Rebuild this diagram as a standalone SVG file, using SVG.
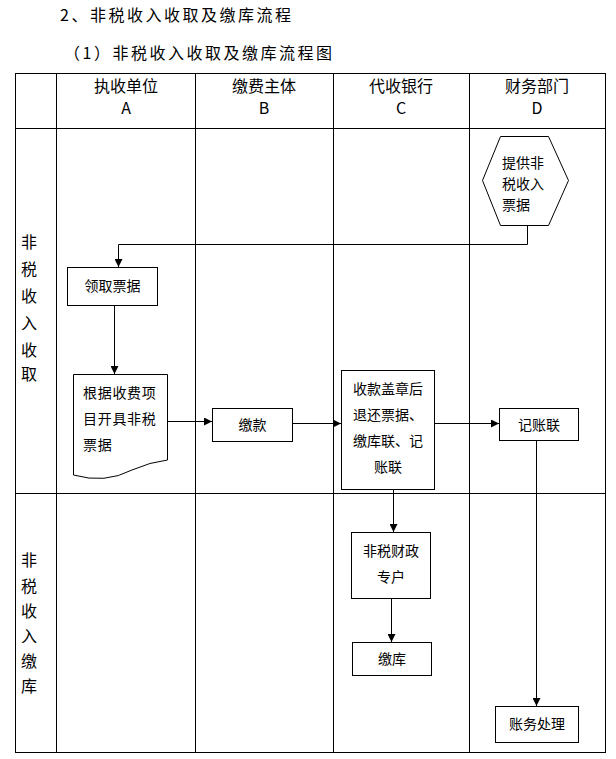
<svg xmlns="http://www.w3.org/2000/svg" width="616" height="759" viewBox="0 0 616 759">
<style>
text{font-family:"Noto Sans CJK SC","Noto Sans",sans-serif;fill:#000}
.t{font-size:16px;letter-spacing:2.5px}
.h{font-size:16px;text-anchor:middle}
.r{font-size:16px;text-anchor:middle}
.n{font-size:14px}
.m{text-anchor:middle}
.grid line{stroke:#000;stroke-width:1}
.box{fill:#fff;stroke:#000;stroke-width:1}
.conn path{fill:none;stroke:#000;stroke-width:1}
</style>
<defs>
<marker id="ar" viewBox="0 0 10 10" refX="10" refY="5" markerWidth="9" markerHeight="8" markerUnits="userSpaceOnUse" orient="auto">
<path d="M0,0 L10,5 L0,10 Z" fill="#000"/>
</marker>
</defs>
<rect width="616" height="759" fill="#fff"/>
<text class="t" x="60" y="21">2、非税收入收取及缴库流程</text>
<text class="t" x="64" y="59">（1）非税收入收取及缴库流程图</text>
<g class="grid">
<rect x="15.5" y="73.5" width="590" height="679" fill="none" stroke="#000"/>
<line x1="56.5" y1="73" x2="56.5" y2="753"/>
<line x1="195.5" y1="73" x2="195.5" y2="753"/>
<line x1="333.5" y1="73" x2="333.5" y2="753"/>
<line x1="469.5" y1="73" x2="469.5" y2="753"/>
<line x1="15" y1="128.5" x2="606" y2="128.5"/>
<line x1="15" y1="493.5" x2="606" y2="493.5"/>
</g>
<g id="headers">
<text class="h" x="126" y="92">执收单位</text><text class="h" x="126" y="114">A</text>
<text class="h" x="264" y="92">缴费主体</text><text class="h" x="264" y="114">B</text>
<text class="h" x="401" y="92">代收银行</text><text class="h" x="401" y="114">C</text>
<text class="h" x="537" y="92">财务部门</text><text class="h" x="537" y="114">D</text>
</g>
<g id="lane1">
<text class="r" x="29" y="248">非</text><text class="r" x="29" y="275">税</text><text class="r" x="29" y="302">收</text><text class="r" x="29" y="329">入</text><text class="r" x="29" y="356">收</text><text class="r" x="29" y="380">取</text>
</g>
<g id="lane2">
<text class="r" x="29" y="566">非</text><text class="r" x="29" y="592">税</text><text class="r" x="29" y="617">收</text><text class="r" x="29" y="642">入</text><text class="r" x="29" y="667">缴</text><text class="r" x="29" y="692">库</text>
</g>
<g class="conn" id="connectors">
<path d="M527.5,225 V244.5 H118.5 V267" marker-end="url(#ar)"/>
<path d="M114.5,305 V374" marker-end="url(#ar)"/>
<path d="M167,421.5 H212" marker-end="url(#ar)"/>
<path d="M292,423.5 H341" marker-end="url(#ar)"/>
<path d="M434,423.5 H499" marker-end="url(#ar)"/>
<path d="M536.5,440 V706" marker-end="url(#ar)"/>
<path d="M393.5,489 V532" marker-end="url(#ar)"/>
<path d="M391.5,598 V642" marker-end="url(#ar)"/>
</g>
<g id="n_provide">
<polygon class="box" points="500.5,136.5 548.5,136.5 568.5,180.5 548.5,225.5 500.5,225.5 482.5,180.5"/>
<text class="n" x="502" y="168">提供非</text>
<text class="n" x="502" y="189">税收入</text>
<text class="n" x="502" y="210">票据</text>
</g>
<g id="n_receive">
<rect class="box" x="67.5" y="267.5" width="90" height="38"/>
<text class="n m" x="112.5" y="291">领取票据</text>
</g>
<g id="n_issue">
<path class="box" d="M73.5,374.5 H167.5 V460 Q150,462 132,470 Q105,484 73.5,475 Z"/>
<text class="n" x="83" y="398" style="letter-spacing:0.7px">根据收费项</text>
<text class="n" x="83" y="424" style="letter-spacing:0.7px">目开具非税</text>
<text class="n" x="83" y="450" style="letter-spacing:0.7px">票据</text>
</g>
<g id="n_pay">
<rect class="box" x="212.5" y="408.5" width="80" height="33"/>
<text class="n m" x="252.5" y="430">缴款</text>
</g>
<g id="n_bank">
<rect class="box" x="341.5" y="370.5" width="93" height="119"/>
<text class="n m" x="388" y="394">收款盖章后</text>
<text class="n m" x="388" y="420">退还票据、</text>
<text class="n m" x="388" y="446">缴库联、记</text>
<text class="n m" x="388" y="472">账联</text>
</g>
<g id="n_record">
<rect class="box" x="499.5" y="408.5" width="79" height="32"/>
<text class="n m" x="539" y="430">记账联</text>
</g>
<g id="n_account">
<rect class="box" x="351.5" y="532.5" width="79" height="66"/>
<text class="n m" x="391" y="556">非税财政</text>
<text class="n m" x="391" y="582">专户</text>
</g>
<g id="n_deposit">
<rect class="box" x="352.5" y="642.5" width="79" height="33"/>
<text class="n m" x="392" y="664">缴库</text>
</g>
<g id="n_process">
<rect class="box" x="495.5" y="706.5" width="83" height="36"/>
<text class="n m" x="537" y="729">账务处理</text>
</g>
</svg>
